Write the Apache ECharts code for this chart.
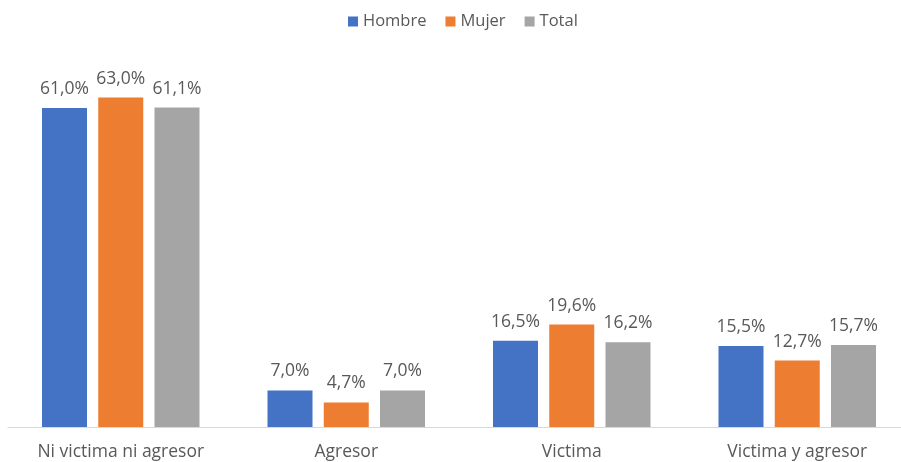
<!DOCTYPE html>
<html><head><meta charset="utf-8">
<script src="https://cdn.jsdelivr.net/npm/echarts@6/dist/echarts.min.js"></script>
<style>html,body{margin:0;padding:0;background:#fff}#c{width:901px;height:462px}</style>
</head><body><div id="c"></div>
<script>
const categories = ["Ni victima ni agresor", "Agresor", "Victima", "Victima y agresor"];
const hombre = [61.0, 7.0, 16.5, 15.5];
const mujer = [63.0, 4.7, 19.6, 12.7];
const total = [61.1, 7.0, 16.2, 15.7];
const seriesNames = ["Hombre", "Mujer", "Total"];
const colors = ["#4472C4", "#ED7D31", "#A5A5A5"];
const font = "'Open Sans', 'Liberation Sans', sans-serif";
const chart = echarts.init(document.getElementById('c'), null, {renderer: 'canvas'});
const mk = (name, data, color) => ({
  name, type: 'bar', data, barWidth: 45, barGap: '25%',
  itemStyle: {color},
  label: {show: true, position: 'top', distance: 10, color: '#595959', fontSize: 17.5, fontFamily: font,
    formatter: p => p.value.toFixed(1).replace('.', ',') + '%'}
});
chart.setOption({
  animation: false,
  color: colors,
  legend: {top: 8, left: 343, itemWidth: 10, itemHeight: 10, itemGap: 19,
    icon: 'rect', textStyle: {color: '#595959', fontSize: 16.5, fontFamily: font}, data: seriesNames},
  grid: {left: 8, right: -9, top: 61, bottom: 35, outerBoundsMode: 'none', containLabel: false},
  xAxis: {type: 'category', data: categories,
    axisLine: {lineStyle: {color: '#D9D9D9', width: 1}}, axisTick: {show: false},
    axisLabel: {color: '#595959', fontSize: 17.5, fontFamily: font, margin: 16}},
  yAxis: {type: 'value', min: 0, max: 70, show: false, splitLine: {show: false}},
  series: [mk(seriesNames[0], hombre, colors[0]), mk(seriesNames[1], mujer, colors[1]), mk(seriesNames[2], total, colors[2])]
});
</script></body></html>
